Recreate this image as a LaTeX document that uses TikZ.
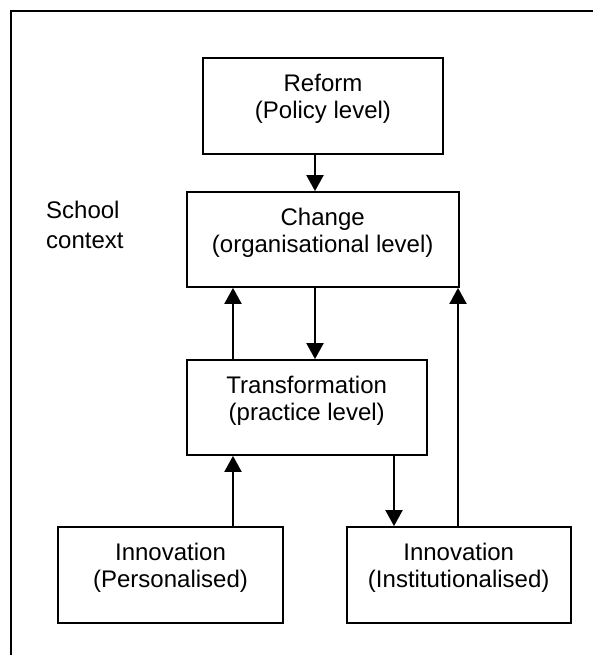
\documentclass[tikz,border=0pt]{standalone}
\usepackage{fontspec}
\setmainfont{Liberation Sans}
\usetikzlibrary{arrows.meta, positioning}

\begin{document}
\begin{tikzpicture}[x=1pt, y=-1pt,
  box/.style={draw, line width=1.8pt, inner sep=0pt},
  lbl/.style={align=center, inner sep=0pt, font=\fontsize{24}{27}\selectfont},
  arr/.style={line width=2pt, -{Triangle[width=17pt,length=16pt]}}]
\clip (0,0) rectangle (593,655);

% outer frame
\draw[line width=1.6pt] (11,11) rectangle (640,700);

% draw the boxes
\node[box, minimum width=240.6pt, minimum height=96pt] (reform) at (323,106.3) {};
\node[box, minimum width=272pt, minimum height=95pt] (change) at (322.7,239.5) {};
\node[box, minimum width=240pt, minimum height=95pt] (transf) at (306.7,407.5) {};
\node[box, minimum width=224.4pt, minimum height=96pt] (pers) at (170.5,575) {};
\node[box, minimum width=224pt, minimum height=96pt] (inst) at (458.7,575) {};

% draw the texts
\node[lbl, below=17pt of reform.north] (reformtxt) {Reform\\(Policy level)};
\node[lbl, below=17pt of change.north] (changetxt) {Change\\(organisational level)};
\node[lbl, below=17pt of transf.north] (transftxt) {Transformation\\(practice level)};
\node[lbl, below=17pt of pers.north] (perstxt) {Innovation\\(Personalised)};
\node[lbl, below=17pt of inst.north] (insttxt) {Innovation\\(Institutionalised)};
\node[anchor=north west, align=left, inner sep=0pt, font=\fontsize{24}{30}\selectfont] (school) at (46,200.6) {School\\context};

% draw some points
\node[coordinate] (a) at (315,0) {};
\node[coordinate] (b) at (233,0) {};
\node[coordinate] (e) at (394,0) {};
\node[coordinate] (f) at (458,0) {};

% draw the arrows
\draw[arr] (reform.south -| a) -- (change.north -| a);
\draw[arr] (change.south -| a) -- (transf.north -| a);
\draw[arr] (transf.north -| b) -- (change.south -| b);
\draw[arr] (pers.north -| b) -- (transf.south -| b);
\draw[arr] (transf.south -| e) -- (inst.north -| e);
\draw[arr] (inst.north -| f) -- (change.south -| f);

\end{tikzpicture}
\end{document}
